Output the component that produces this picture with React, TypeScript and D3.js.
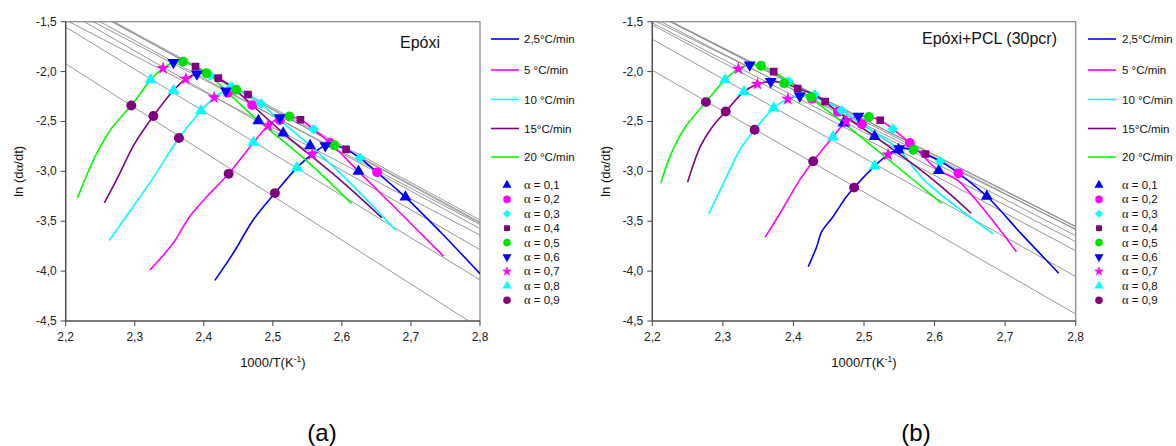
import React from 'react';
import * as d3 from 'd3';

type P = [number, number];

const xTickValues = [2.2, 2.3, 2.4, 2.5, 2.6, 2.7, 2.8];
const yTickValues = [-1.5, -2.0, -2.5, -3.0, -3.5, -4.0, -4.5];
const rateLabels = ['2,5°C/min', '5 °C/min', '10 °C/min', '15°C/min', '20 °C/min'];
const rateColors = ['#0000ff', '#ff00ff', '#00ffff', '#800080', '#00ff00'];
const alphaLabels = ['0,1', '0,2', '0,3', '0,4', '0,5', '0,6', '0,7', '0,8', '0,9'];
const alphaColors = ['#0000ff', '#ff00ff', '#00ffff', '#800080', '#00e000', '#0000ff', '#ff00ff', '#00ffff', '#800080'];
const alphaShapes = ['triUp', 'circle', 'diamond', 'square', 'circle', 'triDown', 'star', 'triUp', 'circle'];

// ---------- Epóxi (a): curves per heating rate ----------
const epoxiCurve25: P[] = [[2.416, -4.093], [2.443, -3.816], [2.472, -3.483], [2.503, -3.218], [2.535, -2.963], [2.557, -2.828], [2.576, -2.742], [2.589, -2.738], [2.606, -2.780], [2.626, -2.866], [2.651, -3.010], [2.692, -3.258], [2.742, -3.603], [2.800, -4.026]];
const epoxiCurve5: P[] = [[2.322, -3.990], [2.356, -3.716], [2.380, -3.450], [2.414, -3.183], [2.436, -3.025], [2.472, -2.710], [2.493, -2.543], [2.510, -2.463], [2.524, -2.450], [2.540, -2.483], [2.559, -2.578], [2.583, -2.716], [2.624, -3.000], [2.684, -3.413], [2.747, -3.850]];
const epoxiCurve10: P[] = [[2.263, -3.693], [2.298, -3.350], [2.325, -3.083], [2.364, -2.665], [2.396, -2.393], [2.415, -2.260], [2.432, -2.193], [2.447, -2.183], [2.464, -2.230], [2.483, -2.323], [2.510, -2.486], [2.554, -2.743], [2.607, -3.083], [2.678, -3.590]];
const epoxiCurve15: P[] = [[2.256, -3.316], [2.276, -3.053], [2.299, -2.733], [2.327, -2.446], [2.356, -2.190], [2.374, -2.073], [2.390, -2.023], [2.404, -2.016], [2.421, -2.066], [2.440, -2.150], [2.470, -2.336], [2.515, -2.616], [2.597, -3.083], [2.658, -3.466]];
const epoxiCurve20: P[] = [[2.217, -3.266], [2.244, -2.833], [2.267, -2.563], [2.295, -2.340], [2.323, -2.083], [2.341, -1.966], [2.356, -1.908], [2.370, -1.900], [2.388, -1.950], [2.409, -2.038], [2.435, -2.213], [2.479, -2.493], [2.547, -2.883], [2.614, -3.323]];

// ---------- Epóxi (a): iso-conversion points (rates 2.5, 5, 10, 15, 20) ----------
const epoxiA01: P[] = [[2.692, -3.258], [2.624, -3.000], [2.554, -2.743], [2.515, -2.616], [2.479, -2.493]];
const epoxiA02: P[] = [[2.651, -3.010], [2.583, -2.716], [2.510, -2.486], [2.470, -2.336], [2.435, -2.213]];
const epoxiA03: P[] = [[2.626, -2.866], [2.559, -2.578], [2.483, -2.323], [2.440, -2.150], [2.409, -2.038]];
const epoxiA04: P[] = [[2.606, -2.780], [2.540, -2.483], [2.464, -2.230], [2.421, -2.066], [2.388, -1.950]];
const epoxiA05: P[] = [[2.589, -2.738], [2.524, -2.450], [2.447, -2.183], [2.404, -2.016], [2.370, -1.900]];
const epoxiA06: P[] = [[2.576, -2.742], [2.510, -2.463], [2.432, -2.193], [2.390, -2.023], [2.356, -1.908]];
const epoxiA07: P[] = [[2.557, -2.828], [2.493, -2.543], [2.415, -2.260], [2.374, -2.073], [2.341, -1.966]];
const epoxiA08: P[] = [[2.535, -2.963], [2.472, -2.710], [2.396, -2.393], [2.356, -2.190], [2.323, -2.083]];
const epoxiA09: P[] = [[2.503, -3.218], [2.436, -3.025], [2.364, -2.665], [2.327, -2.446], [2.295, -2.340]];

// ---------- Epóxi+PCL (b): curves per heating rate ----------
const pclCurve25: P[] = [[2.421, -3.955], [2.433, -3.755], [2.440, -3.605], [2.456, -3.455], [2.475, -3.255], [2.486, -3.163], [2.515, -2.948], [2.534, -2.833], [2.550, -2.773], [2.570, -2.783], [2.587, -2.826], [2.608, -2.898], [2.634, -3.020], [2.674, -3.250], [2.725, -3.642], [2.776, -4.021]];
const pclCurve5: P[] = [[2.360, -3.660], [2.381, -3.420], [2.409, -3.086], [2.428, -2.898], [2.456, -2.655], [2.475, -2.500], [2.492, -2.446], [2.507, -2.456], [2.523, -2.488], [2.541, -2.576], [2.565, -2.716], [2.606, -2.993], [2.632, -3.085], [2.716, -3.805]];
const pclCurve10: P[] = [[2.280, -3.427], [2.303, -3.086], [2.324, -2.786], [2.345, -2.583], [2.372, -2.366], [2.392, -2.275], [2.409, -2.245], [2.425, -2.256], [2.445, -2.300], [2.468, -2.388], [2.497, -2.528], [2.549, -2.783], [2.585, -3.085], [2.683, -3.627]];
const pclCurve15: P[] = [[2.250, -3.110], [2.268, -2.752], [2.285, -2.555], [2.304, -2.400], [2.330, -2.200], [2.349, -2.126], [2.368, -2.100], [2.387, -2.116], [2.406, -2.170], [2.430, -2.233], [2.463, -2.403], [2.515, -2.650], [2.598, -3.085], [2.652, -3.420]];
const pclCurve20: P[] = [[2.212, -3.116], [2.225, -2.852], [2.244, -2.585], [2.276, -2.306], [2.303, -2.083], [2.322, -1.973], [2.338, -1.933], [2.354, -1.941], [2.372, -2.000], [2.393, -2.100], [2.426, -2.273], [2.471, -2.516], [2.537, -2.896], [2.610, -3.320]];

// ---------- Epóxi+PCL (b): iso-conversion points ----------
const pclA01: P[] = [[2.674, -3.250], [2.606, -2.993], [2.549, -2.783], [2.515, -2.650], [2.471, -2.516]];
const pclA02: P[] = [[2.634, -3.020], [2.565, -2.716], [2.497, -2.528], [2.463, -2.403], [2.426, -2.273]];
const pclA03: P[] = [[2.608, -2.898], [2.541, -2.576], [2.468, -2.388], [2.430, -2.233], [2.393, -2.100]];
const pclA04: P[] = [[2.587, -2.826], [2.523, -2.488], [2.445, -2.300], [2.406, -2.170], [2.372, -2.000]];
const pclA05: P[] = [[2.570, -2.783], [2.507, -2.456], [2.425, -2.256], [2.387, -2.116], [2.354, -1.941]];
const pclA06: P[] = [[2.550, -2.773], [2.492, -2.446], [2.409, -2.245], [2.368, -2.100], [2.338, -1.933]];
const pclA07: P[] = [[2.534, -2.833], [2.475, -2.500], [2.392, -2.275], [2.349, -2.126], [2.322, -1.973]];
const pclA08: P[] = [[2.515, -2.948], [2.456, -2.655], [2.372, -2.366], [2.330, -2.200], [2.303, -2.083]];
const pclA09: P[] = [[2.486, -3.163], [2.428, -2.898], [2.345, -2.583], [2.304, -2.400], [2.276, -2.306]];

const FONT = "'Liberation Sans', Arial, Helvetica, sans-serif";

function symbolPath(shape: string, size: number): { d: string; rot: number } {
  switch (shape) {
    case 'triUp': return { d: d3.symbol().type(d3.symbolTriangle).size(size)() as string, rot: 0 };
    case 'triDown': return { d: d3.symbol().type(d3.symbolTriangle).size(size)() as string, rot: 180 };
    case 'diamond': return { d: d3.symbol().type(d3.symbolSquare).size(size * 0.9)() as string, rot: 45 };
    case 'square': return { d: d3.symbol().type(d3.symbolSquare).size(size * 0.95)() as string, rot: 0 };
    case 'star': return { d: d3.symbol().type(d3.symbolStar).size(size * 0.9)() as string, rot: 0 };
    default: return { d: d3.symbol().type(d3.symbolCircle).size(size * 1.25)() as string, rot: 0 };
  }
}

function fit(pts: P[]) {
  const mx = d3.mean(pts, (p) => p[0]) as number;
  const my = d3.mean(pts, (p) => p[1]) as number;
  const sxy = d3.sum(pts, (p) => (p[0] - mx) * (p[1] - my));
  const sxx = d3.sum(pts, (p) => (p[0] - mx) * (p[0] - mx));
  const b = sxy / sxx;
  return (x: number) => my + b * (x - mx);
}

type PanelProps = {
  id: string;
  left: number; right: number; top: number; bottom: number;
  curves: P[][];
  alphas: P[][];
  title: string; titleX: number; titleY: number;
  yTitleX: number;
  legLineX: number; legTextX: number; legSymX: number;
  label: string; labelX: number;
};

function Panel(p: PanelProps) {
  const x = d3.scaleLinear().domain([2.2, 2.8]).range([p.left, p.right]);
  const y = d3.scaleLinear().domain([-1.5, -4.5]).range([p.top, p.bottom]);
  const line = d3.line<P>().x((d) => x(d[0])).y((d) => y(d[1])).curve(d3.curveCatmullRom.alpha(0.5));
  const legLineY = [39, 70, 99.5, 128.5, 157];
  const legAlphaY = d3.range(9).map((i) => 185 + i * 14.4);
  const cx = (p.left + p.right) / 2;
  const cy = (p.top + p.bottom) / 2;
  return (
    <g>
      <defs>
        <clipPath id={p.id}>
          <rect x={p.left} y={p.top} width={p.right - p.left} height={p.bottom - p.top} />
        </clipPath>
      </defs>
      <rect x={p.left} y={p.top} width={p.right - p.left} height={p.bottom - p.top} fill="#fff" stroke="#8a8a8a" strokeWidth={1.3} />
      <g clipPath={`url(#${p.id})`}>
        {p.alphas.map((pts, i) => {
          const f = fit(pts);
          return <line key={i} x1={x(2.2)} y1={y(f(2.2))} x2={x(2.8)} y2={y(f(2.8))} stroke="#8c8c8c" strokeWidth={0.9} />;
        })}
        {p.curves.map((c, i) => (
          <path key={i} d={line(c) as string} fill="none" stroke={rateColors[i]} strokeWidth={1.6} />
        ))}
        {p.alphas.map((pts, ai) => {
          const s = symbolPath(alphaShapes[ai], 62);
          return pts.map((pt, k) => (
            <path key={`${ai}-${k}`} d={s.d} fill={alphaColors[ai]} transform={`translate(${x(pt[0])},${y(pt[1])}) rotate(${s.rot})`} />
          ));
        })}
      </g>
      <line x1={p.left} y1={p.top} x2={p.left} y2={p.bottom} stroke="#444" strokeWidth={1.2} />
      <line x1={p.left} y1={p.bottom} x2={p.right} y2={p.bottom} stroke="#444" strokeWidth={1.2} />
      {yTickValues.map((t) => (
        <g key={t}>
          <line x1={p.left - 5} x2={p.left} y1={y(t)} y2={y(t)} stroke="#444" />
          <text x={p.left - 9} y={y(t) + 4} fontSize={12} textAnchor="end" fontFamily={FONT} fill="#222">{t.toFixed(1).replace('.', ',')}</text>
        </g>
      ))}
      {xTickValues.map((t) => (
        <g key={t}>
          <line x1={x(t)} x2={x(t)} y1={p.bottom} y2={p.bottom + 5} stroke="#444" />
          <text x={x(t)} y={p.bottom + 20} fontSize={12} textAnchor="middle" fontFamily={FONT} fill="#222">{t.toFixed(1).replace('.', ',')}</text>
        </g>
      ))}
      <text x={cx} y={367} fontSize={13} textAnchor="middle" fontFamily={FONT} fill="#111">
        1000/T(K<tspan dy={-5} fontSize={8.5}>-1</tspan><tspan dy={5}>)</tspan>
      </text>
      <text transform={`translate(${p.yTitleX},${cy}) rotate(-90)`} fontSize={13} textAnchor="middle" fontFamily={FONT} fill="#111">
        ln (d<tspan fontFamily="'Liberation Serif', serif">α</tspan>/dt)
      </text>
      <text x={p.titleX} y={p.titleY} fontSize={16} textAnchor="end" fontFamily={FONT} fill="#111">{p.title}</text>
      {rateLabels.map((r, i) => (
        <g key={r}>
          <line x1={p.legLineX} x2={p.legLineX + 28} y1={legLineY[i]} y2={legLineY[i]} stroke={rateColors[i]} strokeWidth={1.6} />
          <text x={p.legTextX} y={legLineY[i] + 4} fontSize={11.5} fontFamily={FONT} fill="#111">{r}</text>
        </g>
      ))}
      {alphaLabels.map((a, i) => {
        const s = symbolPath(alphaShapes[i], 36);
        return (
          <g key={a}>
            <path d={s.d} fill={alphaColors[i]} transform={`translate(${p.legSymX},${legAlphaY[i]}) rotate(${s.rot})`} />
            <text x={p.legTextX} y={legAlphaY[i] + 4} fontSize={11.5} fontFamily={FONT} fill="#111">
              <tspan fontFamily="'Liberation Serif', serif" fontSize={12.5}>α</tspan> = {a}
            </text>
          </g>
        );
      })}
      <text x={p.labelX} y={441} fontSize={24} textAnchor="middle" fontFamily={FONT} fill="#000">{p.label}</text>
    </g>
  );
}

export default function App() {
  return (
    <svg width={1176} height={446} style={{ position: 'absolute', left: 0, top: 0, background: '#fff' }}>
      <rect x={0} y={0} width={1176} height={446} fill="#fff" />
      <Panel
        id="clipA" left={65.7} right={480} top={21.7} bottom={321}
        curves={[epoxiCurve25, epoxiCurve5, epoxiCurve10, epoxiCurve15, epoxiCurve20]}
        alphas={[epoxiA01, epoxiA02, epoxiA03, epoxiA04, epoxiA05, epoxiA06, epoxiA07, epoxiA08, epoxiA09]}
        title="Epóxi" titleX={440} titleY={48} yTitleX={23}
        legLineX={491} legTextX={524} legSymX={507}
        label="(a)" labelX={322}
      />
      <Panel
        id="clipB" left={652.3} right={1075.7} top={21.7} bottom={321}
        curves={[pclCurve25, pclCurve5, pclCurve10, pclCurve15, pclCurve20]}
        alphas={[pclA01, pclA02, pclA03, pclA04, pclA05, pclA06, pclA07, pclA08, pclA09]}
        title="Epóxi+PCL (30pcr)" titleX={1057} titleY={44} yTitleX={610}
        legLineX={1088} legTextX={1122} legSymX={1099}
        label="(b)" labelX={916}
      />
    </svg>
  );
}
